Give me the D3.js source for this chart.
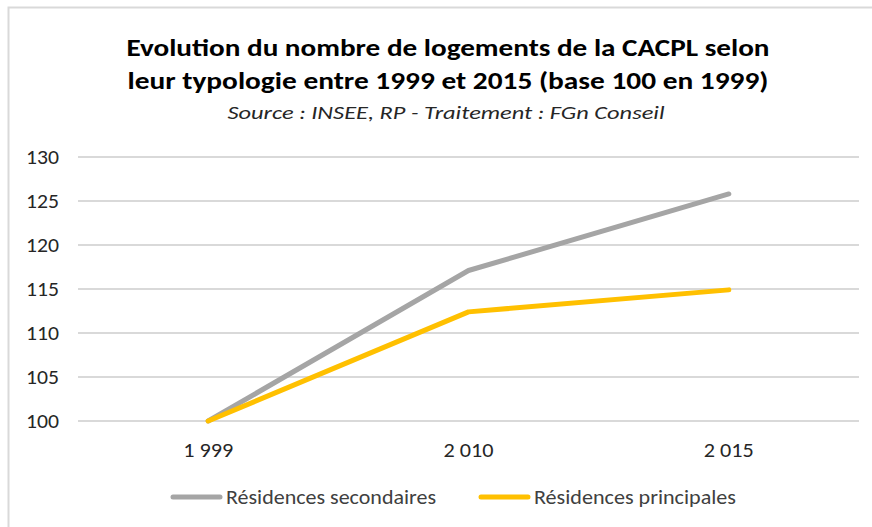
<!DOCTYPE html>
<html>
<head>
<meta charset="utf-8">
<script src="https://cdn.jsdelivr.net/npm/d3@7"></script>
<style>
  body { margin: 0; background: #fff; }
  text { font-family: Carlito, Lato, "Open Sans", sans-serif; }
</style>
</head>
<body>
<script>
var width = 872,
    height = 527;

// data
var years = ["1 999", "2 010", "2 015"];
var secondaires = [100, 117.1, 125.8];
var principales = [100, 112.4, 114.9];
var yTicks = [100, 105, 110, 115, 120, 125, 130];
var seriesNames = ["Résidences secondaires", "Résidences principales"];
var seriesColors = ["#a5a5a5", "#ffc000"];

var margin = {top: 157, right: 13, bottom: 106, left: 78};

var svg = d3.select("body").append("svg")
    .attr("width", width)
    .attr("height", height);

// chart frame (only top and left edges are visible in the crop)
svg.append("rect")
    .attr("x", 8.5).attr("y", 7.5)
    .attr("width", 900).attr("height", 600)
    .attr("fill", "none")
    .attr("stroke", "#d9d9d9")
    .attr("stroke-width", 2);

var x = d3.scaleBand()
    .domain(years)
    .range([margin.left, width - margin.right]);

var y = d3.scaleLinear()
    .domain([100, 130])
    .range([height - margin.bottom, margin.top]);

// grid
svg.append("g")
    .selectAll("line")
    .data(yTicks)
    .enter().append("line")
    .attr("x1", margin.left)
    .attr("x2", width - margin.right)
    .attr("y1", function(d) { return y(d); })
    .attr("y2", function(d) { return y(d); })
    .attr("stroke", "#d9d9d9")
    .attr("stroke-width", 2);

// y labels
svg.append("g")
    .selectAll("text")
    .data(yTicks)
    .enter().append("text")
    .attr("x", 59)
    .attr("y", function(d) { return y(d); })
    .attr("dy", "0.35em")
    .attr("text-anchor", "end")
    .attr("textLength", 33)
    .attr("lengthAdjust", "spacingAndGlyphs")
    .style("font-size", "20px")
    .attr("fill", "#262626")
    .text(function(d) { return d; });

// x labels
svg.append("g")
    .selectAll("text")
    .data(years)
    .enter().append("text")
    .attr("x", function(d) { return x(d) + x.bandwidth() / 2; })
    .attr("y", 457)
    .attr("text-anchor", "middle")
    .attr("textLength", 50)
    .attr("lengthAdjust", "spacingAndGlyphs")
    .style("font-size", "20px")
    .attr("fill", "#262626")
    .text(function(d) { return d; });

// lines
var line = d3.line()
    .x(function(d, i) { return x(years[i]) + x.bandwidth() / 2; })
    .y(function(d) { return y(d); });

[secondaires, principales].forEach(function(s, i) {
    svg.append("path")
        .datum(s)
        .attr("d", line)
        .attr("fill", "none")
        .attr("stroke", seriesColors[i])
        .attr("stroke-width", 5)
        .attr("stroke-linecap", "round")
        .attr("stroke-linejoin", "round");
});

// title
var title = ["Evolution du nombre de logements de la CACPL selon",
             "leur typologie entre 1999 et 2015 (base 100 en 1999)"];
var titleW = [643, 641];
svg.append("g")
    .selectAll("text")
    .data(title)
    .enter().append("text")
    .attr("x", 448)
    .attr("y", function(d, i) { return 56 + i * 33; })
    .attr("text-anchor", "middle")
    .attr("textLength", function(d, i) { return titleW[i]; })
    .attr("lengthAdjust", "spacingAndGlyphs")
    .style("font-size", "25px")
    .style("font-weight", "bold")
    .attr("fill", "#000")
    .text(function(d) { return d; });

svg.append("text")
    .attr("x", 446)
    .attr("y", 119)
    .attr("text-anchor", "middle")
    .attr("textLength", 437)
    .attr("lengthAdjust", "spacingAndGlyphs")
    .style("font-size", "19px")
    .style("font-style", "italic")
    .attr("fill", "#262626")
    .text("Source : INSEE, RP - Traitement : FGn Conseil");

// legend
var legendX = [171, 479];
var legendTextW = [210, 202];
var legend = svg.append("g")
    .selectAll("g")
    .data(seriesNames)
    .enter().append("g");

legend.append("line")
    .attr("x1", function(d, i) { return legendX[i] + 2; })
    .attr("x2", function(d, i) { return legendX[i] + 49; })
    .attr("y1", 497).attr("y2", 497)
    .attr("stroke", function(d, i) { return seriesColors[i]; })
    .attr("stroke-width", 5)
    .attr("stroke-linecap", "round");

legend.append("text")
    .attr("x", function(d, i) { return legendX[i] + 55; })
    .attr("y", 497)
    .attr("dy", "0.35em")
    .attr("textLength", function(d, i) { return legendTextW[i]; })
    .attr("lengthAdjust", "spacingAndGlyphs")
    .style("font-size", "19.5px")
    .attr("fill", "#404040")
    .text(function(d) { return d; });
</script>
</body>
</html>
